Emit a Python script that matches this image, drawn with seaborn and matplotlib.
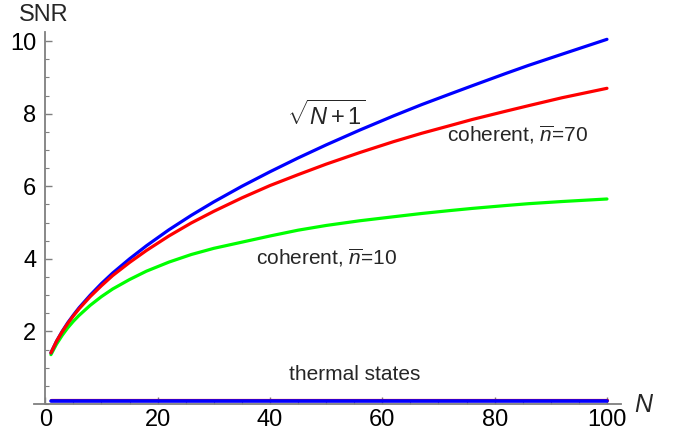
import matplotlib
matplotlib.use("Agg")
import matplotlib.pyplot as plt
import seaborn as sns
import pandas as pd
from matplotlib.ticker import MultipleLocator, FixedLocator

# ---- data ----
N = [1, 2, 3, 4, 5, 6, 8, 10, 12, 15, 18, 22, 26, 30, 35, 40, 45, 50, 56, 62, 67, 72, 76, 82, 86, 92, 100]
snr_sqrt = [1.41, 1.73, 2.00, 2.24, 2.45, 2.65, 3.00, 3.32, 3.61, 4.00, 4.36, 4.80, 5.20, 5.57, 6.00,
            6.40, 6.78, 7.14, 7.55, 7.94, 8.25, 8.54, 8.77, 9.11, 9.33, 9.64, 10.05]
snr_coh70 = [1.41, 1.73, 1.99, 2.22, 2.43, 2.62, 2.96, 3.26, 3.54, 3.90, 4.23, 4.63, 4.99, 5.31, 5.68,
             6.02, 6.32, 6.61, 6.93, 7.23, 7.46, 7.67, 7.84, 8.07, 8.22, 8.44, 8.70]
snr_coh10 = [1.36, 1.65, 1.89, 2.10, 2.28, 2.44, 2.72, 2.96, 3.17, 3.43, 3.66, 3.91, 4.12, 4.29, 4.46,
             4.63, 4.79, 4.92, 5.05, 5.16, 5.25, 5.33, 5.39, 5.47, 5.52, 5.58, 5.65]
N_thermal = [1, 100]
snr_thermal_red = [0.12, 0.12]
snr_thermal_blue = [0.07, 0.07]

y_major = [2, 4, 6, 8, 10]
x_major = [0, 20, 40, 60, 80, 100]

sns.set_style("white")
plt.rcParams['font.family'] = ['Liberation Sans', 'DejaVu Sans']
plt.rcParams['mathtext.fontset'] = 'custom'
plt.rcParams['mathtext.rm'] = 'Liberation Sans'
plt.rcParams['mathtext.it'] = 'Liberation Sans:italic'
plt.rcParams['mathtext.bf'] = 'Liberation Sans:bold'

fig = plt.figure(figsize=(6.74, 4.38), dpi=100)
W, H = 674, 438
left_px, right_px = 33.5, 621
bottom_px, top_px = 404, 31.7
ax = fig.add_axes([left_px / W, (H - bottom_px) / H, (right_px - left_px) / W, (bottom_px - top_px) / H])

lw = 2.3
df_main = pd.DataFrame({"N": N, "sqrt": snr_sqrt, "c70": snr_coh70, "c10": snr_coh10})
sns.lineplot(data=df_main, x="N", y="c10", color=(0, 1, 0), lw=lw, ax=ax)
sns.lineplot(data=df_main, x="N", y="sqrt", color=(0, 0, 1), lw=lw, ax=ax)
sns.lineplot(data=df_main, x="N", y="c70", color=(1, 0, 0), lw=lw, ax=ax)

df_th = pd.DataFrame({"N": N_thermal, "r": snr_thermal_red, "b": snr_thermal_blue})
sns.lineplot(data=df_th, x="N", y="r", color=(1, 0, 0), lw=lw, ax=ax, clip_on=False)
sns.lineplot(data=df_th, x="N", y="b", color=(0, 0, 1), lw=2.6, ax=ax, clip_on=False)

ax.set_xlim(-2.1, 102.5)
ax.set_ylim(0, 10.26)
ax.set_xlabel("")
ax.set_ylabel("")

for s in ["top", "right"]:
    ax.spines[s].set_visible(False)
ax.spines["left"].set_position(("data", 0))
ax.spines["bottom"].set_position(("data", 0))
for s in ["left", "bottom"]:
    ax.spines[s].set_color("#7f7f7f")
    ax.spines[s].set_linewidth(1.3)
    ax.spines[s].set_zorder(1)

ax.xaxis.set_major_locator(FixedLocator(x_major))
ax.xaxis.set_minor_locator(MultipleLocator(5))
ax.yaxis.set_major_locator(FixedLocator(y_major))
ax.yaxis.set_minor_locator(MultipleLocator(0.5))
ax.set_xticklabels([str(v) for v in x_major])
ax.set_yticklabels([str(v) for v in y_major])
ax.tick_params(axis="both", which="both", bottom=True, left=True, top=False, right=False)
ax.tick_params(axis="both", which="major", direction="in", length=5, width=1.0,
               color="#7f7f7f", labelsize=17, labelcolor="black")
ax.tick_params(axis="both", which="minor", direction="in", length=3, width=0.8, color="#7f7f7f")
ax.tick_params(axis="y", which="major", pad=6.5)
ax.tick_params(axis="x", which="major", pad=3.5)

fs = 15
ax.text(50, 7.96, r"$\sqrt{N+1}$", fontsize=17, ha="center", va="center")
ax.text(84, 7.41, r"coherent, $\overline{n}$=70", fontsize=fs, ha="center", va="center")
ax.text(50, 4.02, r"coherent, $\overline{n}$=10", fontsize=fs, ha="center", va="center")
ax.text(55, 0.80, "thermal states", fontsize=fs, ha="center", va="center")

fig.text(44 / W, 1 - 15 / H, "SNR", fontsize=17, ha="center", va="center")
fig.text(643 / W, 1 - 405 / H, "N", fontsize=18, style="italic", ha="center", va="center")

fig.savefig("out.png", dpi=100, facecolor="white")
